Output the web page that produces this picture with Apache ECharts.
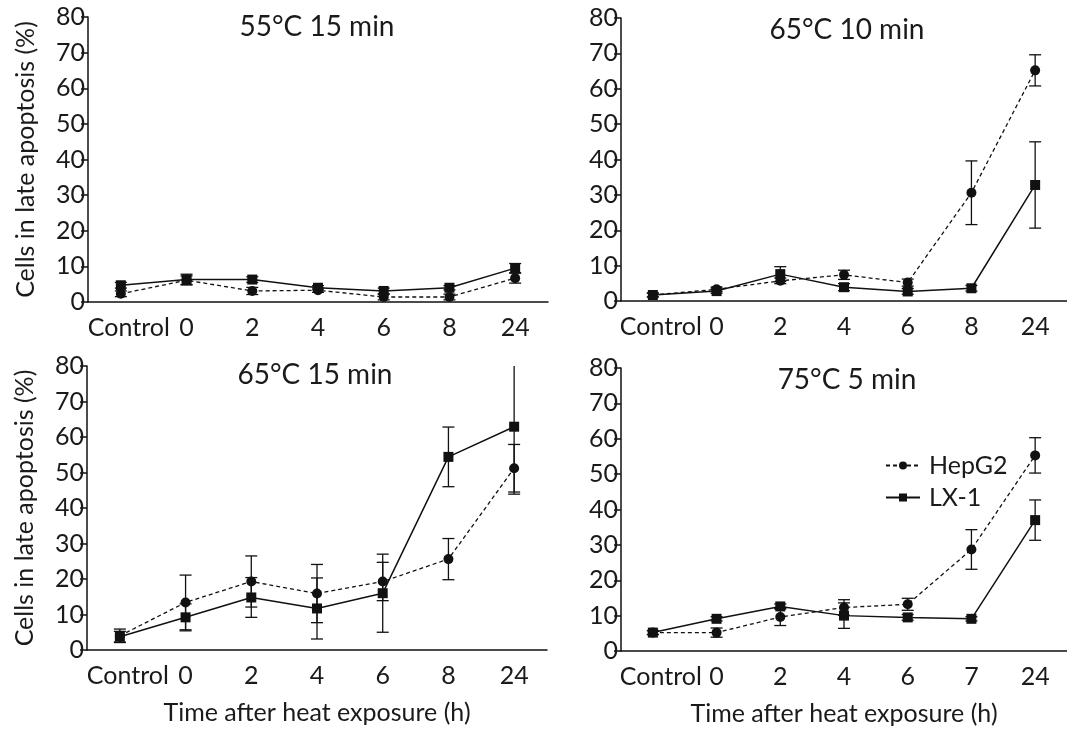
<!DOCTYPE html>
<html>
<head>
<meta charset="utf-8">
<script src="https://cdn.jsdelivr.net/npm/echarts@6/dist/echarts.min.js"></script>
<style>
html,body{margin:0;padding:0;background:#fff;}
#chart{width:1067px;height:730px;}
</style>
</head>
<body>
<div id="chart"></div>
<script>
// ---- data ----
const categoriesA = ['Control', '0', '2', '4', '6', '8', '24'];
const categoriesB = ['Control', '0', '2', '4', '6', '7', '24'];
const panelTitles = ['55°C 15 min', '65°C 10 min', '65°C 15 min', '75°C 5 min'];
const yTicks = [0, 10, 20, 30, 40, 50, 60, 70, 80];
const seriesNames = ['HepG2', 'LX-1'];
const yAxisName = 'Cells in late apoptosis (%)';
const xAxisName = 'Time after heat exposure (h)';

const hep55 = [2.3, 6.1, 3.1, 3.3, 1.4, 1.4, 6.7];
const hep55Err = [0.8, 1.2, 1.0, 0.6, 0.8, 0.8, 1.4];
const lx55 = [4.7, 6.3, 6.3, 4.0, 3.1, 4.0, 9.5];
const lx55Err = [0.8, 1.5, 0.8, 0.6, 0.8, 0.6, 1.3];

const hep6510 = [1.7, 3.3, 5.7, 7.4, 5.2, 30.6, 65.2];
const hep6510Err = [0.5, 0.6, 0.8, 1.3, 1.0, 9.0, 4.4];
const lx6510 = [1.7, 2.8, 7.6, 3.9, 2.7, 3.6, 32.8];
const lx6510Err = [0.6, 0.6, 2.1, 1.0, 0.8, 0.8, 12.2];

const hep6515 = [4.0, 13.4, 19.3, 15.9, 19.3, 25.6, 51.2];
const hep6515Err = [1.9, 7.7, 7.2, 8.2, 5.4, 5.8, 6.7];
const lx6515 = [3.75, 9.2, 14.8, 11.7, 16.0, 54.4, 62.9];
const lx6515Err = [1.5, 3.8, 5.6, 8.6, 11.0, 8.4, 19.0];

const hep755 = [5.2, 5.2, 9.6, 12.3, 13.2, 28.7, 55.3];
const hep755Err = [0.6, 1.3, 2.4, 2.2, 1.7, 5.6, 5.0];
const lx755 = [5.2, 9.1, 12.6, 10.0, 9.5, 9.1, 37.0];
const lx755Err = [0.5, 0.6, 0.7, 3.6, 0.8, 0.6, 5.7];

// ---- layout ----
const FONT = 'Lato';
const TXT = '#1a1a1a';
const FS = 25;
const grids = [
  {left: 88, top: 17, width: 460, height: 285},
  {left: 621, top: 18, width: 454, height: 283},
  {left: 87, top: 366, width: 460, height: 284},
  {left: 621, top: 368, width: 454, height: 283}
];
const titlePos = [[317, 13], [847, 16], [315, 361], [847, 366]];
const panels = [
  {cats: categoriesA, hep: hep55, hepErr: hep55Err, lx: lx55, lxErr: lx55Err},
  {cats: categoriesA, hep: hep6510, hepErr: hep6510Err, lx: lx6510, lxErr: lx6510Err},
  {cats: categoriesA, hep: hep6515, hepErr: hep6515Err, lx: lx6515, lxErr: lx6515Err},
  {cats: categoriesB, hep: hep755, hepErr: hep755Err, lx: lx755, lxErr: lx755Err}
];

function errRender(params, api) {
  const x = api.value(0), m = api.value(1), e = api.value(2);
  const lo = api.coord([x, m - e]);
  const hi = api.coord([x, m + e]);
  const cs = params.coordSys;
  let top = hi[1], capTop = true;
  if (top < cs.y) { top = cs.y; capTop = false; }
  let bot = lo[1], capBot = true;
  if (bot > cs.y + cs.height) { bot = cs.y + cs.height; capBot = false; }
  const hw = 6;
  const st = {stroke: '#111', lineWidth: 1.3};
  const ch = [{type: 'line', shape: {x1: lo[0], y1: bot, x2: lo[0], y2: top}, style: st}];
  if (capTop) ch.push({type: 'line', shape: {x1: lo[0] - hw, y1: top, x2: lo[0] + hw, y2: top}, style: st});
  if (capBot) ch.push({type: 'line', shape: {x1: lo[0] - hw, y1: bot, x2: lo[0] + hw, y2: bot}, style: st});
  return {type: 'group', children: ch};
}

const option = {
  animation: false,
  backgroundColor: '#fff',
  textStyle: {fontFamily: FONT, color: TXT},
  title: panelTitles.map((t, i) => ({
    text: t, left: titlePos[i][0], top: titlePos[i][1], textAlign: 'center', padding: 0,
    textStyle: {fontFamily: FONT, fontSize: 28, fontWeight: 'normal', color: TXT}
  })),
  legend: {
    data: seriesNames.map(n => ({name: n})),
    orient: 'vertical', left: 880, top: 448, itemGap: 7,
    itemWidth: 34, itemHeight: 10,
    textStyle: {fontFamily: FONT, fontSize: FS, color: TXT, padding: [0, 0, 0, 4]}
  },
  grid: grids,
  xAxis: grids.map((g, i) => ({
    type: 'category', gridIndex: i, boundaryGap: true,
    data: panels[i].cats.map((c, k) => k === 0 ? {value: c, textStyle: {padding: [0, 0, 0, 16]}} : c),
    axisLine: {lineStyle: {color: '#111', width: 1.5}},
    axisTick: {alignWithLabel: true, length: 6, lineStyle: {color: '#111', width: 1.5}},
    axisLabel: {fontFamily: FONT, fontSize: FS, color: TXT, margin: 13, interval: 0},
    splitLine: {show: false},
    name: i >= 2 ? xAxisName : '', nameLocation: 'middle', nameGap: 50,
    nameTextStyle: {fontFamily: FONT, fontSize: FS, color: TXT}
  })),
  yAxis: grids.map((g, i) => ({
    type: 'value', gridIndex: i, min: yTicks[0], max: yTicks[yTicks.length - 1], interval: yTicks[1] - yTicks[0],
    axisLine: {show: true, lineStyle: {color: '#111', width: 1.5}},
    axisTick: {show: true, length: 7, lineStyle: {color: '#111', width: 1.5}},
    axisLabel: {fontFamily: FONT, fontSize: FS, color: TXT, margin: 3},
    splitLine: {show: false},
    name: (i % 2 === 0) ? yAxisName : '', nameLocation: 'middle', nameGap: 50, nameRotate: 90,
    nameTextStyle: {fontFamily: FONT, fontSize: FS, color: TXT}
  })),
  series: []
};

panels.forEach((p, i) => {
  option.series.push({
    type: 'custom', xAxisIndex: i, yAxisIndex: i, renderItem: errRender, z: 1,
    data: p.hep.map((v, k) => [k, v, p.hepErr[k]]), silent: true
  });
  option.series.push({
    type: 'custom', xAxisIndex: i, yAxisIndex: i, renderItem: errRender, z: 1,
    data: p.lx.map((v, k) => [k, v, p.lxErr[k]]), silent: true
  });
  option.series.push({
    name: seriesNames[0], type: 'line', xAxisIndex: i, yAxisIndex: i, z: 3,
    data: p.hep, symbol: 'circle', symbolSize: 10,
    itemStyle: {color: '#111'},
    lineStyle: {color: '#111', width: 1.3, type: [4, 3]}
  });
  option.series.push({
    name: seriesNames[1], type: 'line', xAxisIndex: i, yAxisIndex: i, z: 3,
    data: p.lx, symbol: 'rect', symbolSize: 10,
    itemStyle: {color: '#111'},
    lineStyle: {color: '#111', width: 1.5, type: 'solid'}
  });
});

const chart = echarts.init(document.getElementById('chart'), null, {renderer: 'canvas'});
chart.setOption(option);
</script>
</body>
</html>
